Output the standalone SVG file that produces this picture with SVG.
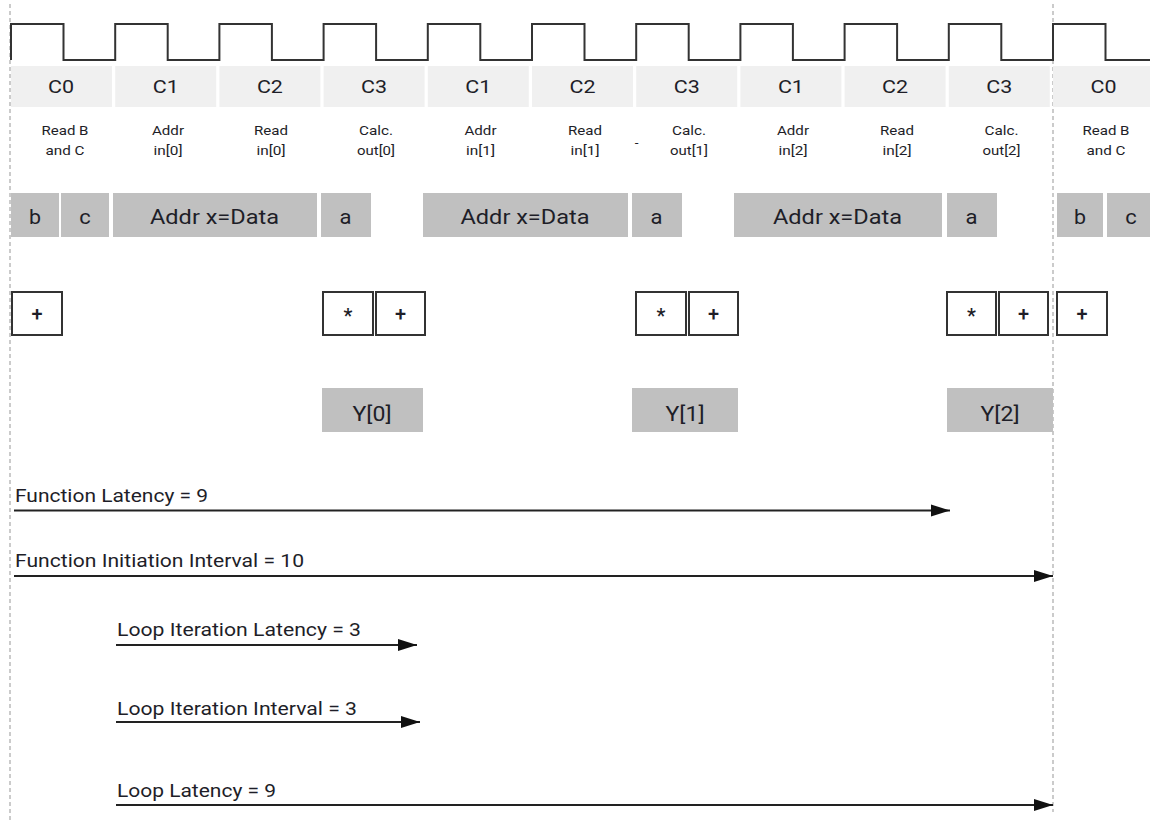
<svg xmlns="http://www.w3.org/2000/svg" width="1150" height="820" viewBox="0 0 1150 820">
<defs>
<style>
text{font-family:Roboto,"Liberation Sans",sans-serif;fill:#1e1e28;text-anchor:middle;font-weight:400}
.cell{fill:#f0f0f0}
.cl{font-size:19px}
.sm{font-size:13.5px}
.gb{fill:#c0c0c0}
.bl{font-size:20px}
.wb{fill:#fff;stroke:#333;stroke-width:2}
.op{font-size:20px;font-weight:500}
.dash{stroke:#bbb;stroke-width:1.5;stroke-dasharray:4 3;fill:none}
.arr{stroke:#222;stroke-width:2;fill:none;marker-end:url(#ah)}
.al{font-size:19px;text-anchor:start}
</style>
<marker id="ah" markerUnits="userSpaceOnUse" markerWidth="20" markerHeight="14" refX="19" refY="7" orient="auto">
<path d="M0,1 L19,7 L0,13 Z" fill="#111"/>
</marker>
</defs>
<rect width="1150" height="820" fill="#fff"/>
<line class="dash" x1="10" y1="4" x2="10" y2="820"/>
<line class="dash" x1="1053" y1="4" x2="1053" y2="812"/>
<path d="M11,60 V24 H63.5 V60 H115.2 V24 H167.7 V60 H219.4 V24 H271.9 V60 H323.6 V24 H376.1 V60 H427.8 V24 H480.3 V60 H532 V24 H584.5 V60 H636.2 V24 H688.7 V60 H740.4 V24 H792.9 V60 H844.6 V24 H897.1 V60 H948.8 V24 H1001.3 V60 H1053 V24 H1105.5 V60 H1150" fill="none" stroke="#333" stroke-width="2"/>
<g id="cycles">
<rect class="cell" x="11" y="66" width="101" height="41"/>
<rect class="cell" x="115.2" y="66" width="101" height="41"/>
<rect class="cell" x="219.4" y="66" width="101" height="41"/>
<rect class="cell" x="323.6" y="66" width="101" height="41"/>
<rect class="cell" x="427.8" y="66" width="101" height="41"/>
<rect class="cell" x="532" y="66" width="101" height="41"/>
<rect class="cell" x="636.2" y="66" width="101" height="41"/>
<rect class="cell" x="740.4" y="66" width="101" height="41"/>
<rect class="cell" x="844.6" y="66" width="101" height="41"/>
<rect class="cell" x="948.8" y="66" width="101" height="41"/>
<rect class="cell" x="1053" y="66" width="101" height="41"/>
<text class="cl" x="61" y="93" textLength="26" lengthAdjust="spacingAndGlyphs">C0</text>
<text class="cl" x="165.7" y="93" textLength="26" lengthAdjust="spacingAndGlyphs">C1</text>
<text class="cl" x="269.9" y="93" textLength="26" lengthAdjust="spacingAndGlyphs">C2</text>
<text class="cl" x="374.1" y="93" textLength="26" lengthAdjust="spacingAndGlyphs">C3</text>
<text class="cl" x="478.3" y="93" textLength="26" lengthAdjust="spacingAndGlyphs">C1</text>
<text class="cl" x="582.5" y="93" textLength="26" lengthAdjust="spacingAndGlyphs">C2</text>
<text class="cl" x="686.7" y="93" textLength="26" lengthAdjust="spacingAndGlyphs">C3</text>
<text class="cl" x="790.9" y="93" textLength="26" lengthAdjust="spacingAndGlyphs">C1</text>
<text class="cl" x="895.1" y="93" textLength="26" lengthAdjust="spacingAndGlyphs">C2</text>
<text class="cl" x="999.3" y="93" textLength="26" lengthAdjust="spacingAndGlyphs">C3</text>
<text class="cl" x="1103.5" y="93" textLength="26" lengthAdjust="spacingAndGlyphs">C0</text>
</g>
<g id="ops">
<text class="sm" x="65" y="135" textLength="47" lengthAdjust="spacingAndGlyphs">Read B</text><text class="sm" x="65" y="155" textLength="39" lengthAdjust="spacingAndGlyphs">and C</text>
<text class="sm" x="168" y="135" textLength="32" lengthAdjust="spacingAndGlyphs">Addr</text><text class="sm" x="168" y="155" textLength="29" lengthAdjust="spacingAndGlyphs">in[0]</text>
<text class="sm" x="271" y="135" textLength="34" lengthAdjust="spacingAndGlyphs">Read</text><text class="sm" x="271" y="155" textLength="29" lengthAdjust="spacingAndGlyphs">in[0]</text>
<text class="sm" x="376" y="135" textLength="34" lengthAdjust="spacingAndGlyphs">Calc.</text><text class="sm" x="376" y="155" textLength="38" lengthAdjust="spacingAndGlyphs">out[0]</text>
<text class="sm" x="480.5" y="135" textLength="32" lengthAdjust="spacingAndGlyphs">Addr</text><text class="sm" x="480.5" y="155" textLength="29" lengthAdjust="spacingAndGlyphs">in[1]</text>
<text class="sm" x="585" y="135" textLength="34" lengthAdjust="spacingAndGlyphs">Read</text><text class="sm" x="585" y="155" textLength="29" lengthAdjust="spacingAndGlyphs">in[1]</text>
<text class="sm" x="636.5" y="147">-</text>
<text class="sm" x="689" y="135" textLength="34" lengthAdjust="spacingAndGlyphs">Calc.</text><text class="sm" x="689" y="155" textLength="38" lengthAdjust="spacingAndGlyphs">out[1]</text>
<text class="sm" x="793" y="135" textLength="32" lengthAdjust="spacingAndGlyphs">Addr</text><text class="sm" x="793" y="155" textLength="29" lengthAdjust="spacingAndGlyphs">in[2]</text>
<text class="sm" x="897" y="135" textLength="34" lengthAdjust="spacingAndGlyphs">Read</text><text class="sm" x="897" y="155" textLength="29" lengthAdjust="spacingAndGlyphs">in[2]</text>
<text class="sm" x="1001.5" y="135" textLength="34" lengthAdjust="spacingAndGlyphs">Calc.</text><text class="sm" x="1001.5" y="155" textLength="38" lengthAdjust="spacingAndGlyphs">out[2]</text>
<text class="sm" x="1106" y="135" textLength="47" lengthAdjust="spacingAndGlyphs">Read B</text><text class="sm" x="1106" y="155" textLength="39" lengthAdjust="spacingAndGlyphs">and C</text>
</g>
<g id="vars">
<rect class="gb" x="11" y="193" width="48" height="44"/><text class="bl" x="35" y="224" textLength="12" lengthAdjust="spacingAndGlyphs">b</text>
<rect class="gb" x="61" y="193" width="48" height="44"/><text class="bl" x="85" y="224" textLength="11.5" lengthAdjust="spacingAndGlyphs">c</text>
<rect class="gb" x="113" y="193" width="204" height="44"/><text class="bl" x="214.5" y="224" textLength="129" lengthAdjust="spacingAndGlyphs">Addr x=Data</text>
<rect class="gb" x="321" y="193" width="50" height="44"/><text class="bl" x="345.5" y="224" textLength="12" lengthAdjust="spacingAndGlyphs">a</text>
<rect class="gb" x="423" y="193" width="205" height="44"/><text class="bl" x="525" y="224" textLength="129" lengthAdjust="spacingAndGlyphs">Addr x=Data</text>
<rect class="gb" x="632" y="193" width="50" height="44"/><text class="bl" x="656.5" y="224" textLength="12" lengthAdjust="spacingAndGlyphs">a</text>
<rect class="gb" x="734" y="193" width="208" height="44"/><text class="bl" x="837.5" y="224" textLength="129" lengthAdjust="spacingAndGlyphs">Addr x=Data</text>
<rect class="gb" x="947" y="193" width="50" height="44"/><text class="bl" x="971.5" y="224" textLength="12" lengthAdjust="spacingAndGlyphs">a</text>
<rect class="gb" x="1057" y="193" width="46" height="44"/><text class="bl" x="1080" y="224" textLength="12" lengthAdjust="spacingAndGlyphs">b</text>
<rect class="gb" x="1107" y="193" width="48" height="44"/><text class="bl" x="1131" y="224" textLength="11.5" lengthAdjust="spacingAndGlyphs">c</text>
</g>
<g id="alu">
<rect class="wb" x="12" y="292" width="50" height="43"/><text class="op" x="37" y="321">+</text>
<rect class="wb" x="323" y="292" width="50" height="43"/><text class="op" x="348" y="323">*</text>
<rect class="wb" x="376" y="292" width="49" height="43"/><text class="op" x="400.5" y="321">+</text>
<rect class="wb" x="636" y="292" width="50" height="43"/><text class="op" x="661" y="323">*</text>
<rect class="wb" x="689" y="292" width="49" height="43"/><text class="op" x="713.5" y="321">+</text>
<rect class="wb" x="947" y="292" width="49" height="43"/><text class="op" x="971.5" y="323">*</text>
<rect class="wb" x="999" y="292" width="49" height="43"/><text class="op" x="1023.5" y="321">+</text>
<rect class="wb" x="1057" y="292" width="50" height="43"/><text class="op" x="1082" y="321">+</text>
</g>
<g id="outputs">
<rect class="gb" x="322" y="388" width="101" height="44"/><text class="bl" x="372" y="421" textLength="39" lengthAdjust="spacingAndGlyphs">Y[0]</text>
<rect class="gb" x="632" y="388" width="106" height="44"/><text class="bl" x="685" y="421" textLength="39" lengthAdjust="spacingAndGlyphs">Y[1]</text>
<rect class="gb" x="947" y="388" width="106" height="44"/><text class="bl" x="1000" y="421" textLength="39" lengthAdjust="spacingAndGlyphs">Y[2]</text>
</g>
<g id="connectors">
<line class="arr" x1="14" y1="510.5" x2="950" y2="510.5"/>
<line class="arr" x1="14" y1="576" x2="1053" y2="576"/>
<line class="arr" x1="116" y1="645" x2="417" y2="645"/>
<line class="arr" x1="116" y1="722" x2="420" y2="722"/>
<line class="arr" x1="116" y1="805" x2="1053" y2="805"/>
</g>
<g id="labels">
<text class="al" x="15" y="502" textLength="193" lengthAdjust="spacingAndGlyphs">Function Latency = 9</text>
<text class="al" x="15" y="567" textLength="289" lengthAdjust="spacingAndGlyphs">Function Initiation Interval = 10</text>
<text class="al" x="117" y="635.5" textLength="244" lengthAdjust="spacingAndGlyphs">Loop Iteration Latency = 3</text>
<text class="al" x="117" y="715" textLength="240" lengthAdjust="spacingAndGlyphs">Loop Iteration Interval = 3</text>
<text class="al" x="117" y="796.5" textLength="159" lengthAdjust="spacingAndGlyphs">Loop Latency = 9</text>
</g>
</svg>
